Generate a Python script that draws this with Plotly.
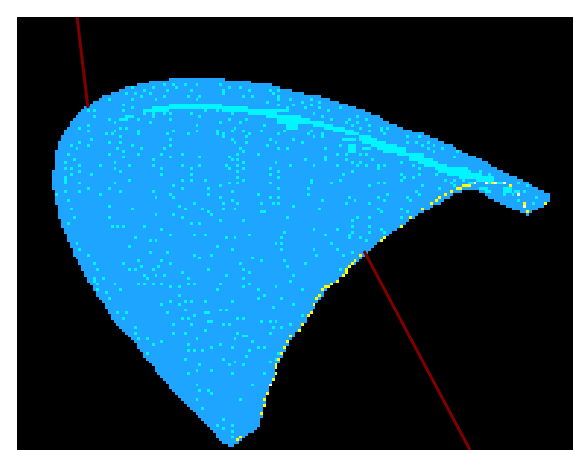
import numpy as np
import plotly.graph_objects as go

N_COLS, N_ROWS = 190, 150
X_MAX, Y_MAX = 556.0, 433.0
FIRST_ROW = 21

row_left = [152,131,120,108,102,93,85,82,76,73,
            67,64,61,58,55,54,52,50,48,47,
            45,44,42,41,41,39,38,38,38,38,
            38,38,35,35,35,35,35,35,35,38,
            38,38,38,38,41,41,41,41,41,44,
            44,44,47,47,50,50,50,52,52,55,
            55,55,58,61,61,64,64,67,67,70,
            70,73,76,76,79,79,82,85,87,87,
            90,90,93,93,96,99,102,105,108,111,
            114,116,120,120,122,125,125,128,131,134,
            137,137,140,143,146,149,152,152,155,157,
            160,163,166,169,172,175,178,181,184,187,
            190,192,195,198,198,201,204,210]
row_right = [207,233,254,262,274,286,303,312,321,330,
             338,347,353,362,367,373,380,386,394,408,
             414,420,426,435,440,446,452,458,464,470,
             475,481,487,493,499,505,511,516,522,
             446,437,432,426,423,417,413,408,402,
             397,393,388,384,380,376,372,369,367,361,
             357,354,350,348,344,341,338,335,332,329,
             326,323,319,316,314,311,308,306,304,301,
             299,298,296,295,292,291,289,288,285,283,
             279,277,275,273,272,270,268,267,265,263,
             262,260,259,258,258,257,256,254,253,252,
             251,250,249,248,248,247,247,246,245,245,
             244,243,242,240,237,231,228,226,223,216]
TAIL_FIRST_ROW = 60
tail_left = [461,467,472,478,484,490,496,502,508]
tail_right = [528,534,534,534,531,528,522,516,513]

ridge_runs = [
    (151,206,88),(134,230,91),(125,151,93.8),(206,273,93.8),(230,260,96.7),(248,283,99.6),
    (260,283,102.5),(260,283,105.4),(268,280,108.3),(268,280,111.2),
    (273,283,99.6),(273,293,102.5),(283,308,105.4),(295,316,108.3),(308,328,111.2),(316,336,114),
    (328,341,117),(341,353,120),(341,361,122.7),(345,370,125.6),(353,380,128.5),(361,388,131.4),
    (366,388,134.2),(381,406,137),(391,408,140),(391,416,143),(400,420,145.8),(408,430,148.7),
    (418,436,151.6),(421,443,154.5),(431,443,157.4),
    (433,451,151.6),(440,453,154.5),(443,466,157.4),(443,466,160.3),(458,478,160.3),(458,478,163.1),
    (452,458,166),(471,486,166),(461,471,171.8),(486,495,171.8),(467,475,174.7),(486,496,174.7),
    (332,338,128.5),(332,338,131.4),(332,338,134.2),(326,336,122.7),(344,353,131.4),
    (102,110,102.5),(108,116,99.6),
]

speckles_upper_left = [
    (147,69),(157,69),(159,72),(167,69),(179,69),(202,69),(115,72),(135,72),(126,75),(150,75),(173,75),
    (109,77),(118,77),(132,77),(123,80),(147,80),(170,80),(182,80),(91,83),(115,83),(138,83),(179,83),
    (106,88),(179,87),(115,91),(155,91),(167,91),(179,91),(190,94),(199,94),(71,94),(77,94),(106,94),
    (126,96),(135,96),(147,96),(155,96),(173,96),(77,99),(91,102),(121,102),(135,99),(182,99),(153,102),
    (97,105),(132,105),(71,107),(179,107),(202,105),(62,110),(103,110),(109,110),(71,113),(121,113),
    (158,113),(179,113),(199,113),(97,113),(94,116),(150,116),(170,116),(88,118),(121,118),(199,118),
    (103,121),(74,124),(155,124),(62,127),(91,127),(103,127),(53,129),(71,129),(115,129),(155,129),
    (59,132),(100,132),(123,132),(147,132),(106,135),(50,137),(91,137),(121,137),(144,137),(164,137),
    (106,140),(153,140),(182,140),(56,143),(135,143),(48,146),(97,146),(62,148),(83,148),(112,148),
    (135,148),(164,148),(182,148),(48,151),(53,151),(97,151),(144,151),(173,151),(62,154),(103,154),
    (53,157),(74,157),(144,157),(173,157),(48,159),(48,162),(112,162),(164,162),(173,162),(190,162),
    (48,167),(62,167),(97,167),(158,170),(202,170),(71,173),(91,173),(164,173),(193,173),(48,176),
    (62,176),(103,176),(135,176),(39,178),(83,178),(153,178),(193,178),(138,181),(158,181),(202,181),
]
speckles_upper_middle = [
    (211,72),(223,72),(234,75),(252,75),(255,77),(261,75),(205,75),(205,77),(228,80),(237,80),(263,80),
    (263,83),(275,83),(293,83),(249,86),(263,88),(278,88),(284,86),(293,88),(304,86),(272,91),(287,91),
    (304,91),(322,91),(313,94),(298,96),(214,94),(214,96),(307,99),(342,99),(211,102),(231,102),(316,102),
    (333,102),(351,102),(342,105),(328,105),(225,105),(246,107),(336,107),(354,107),(217,110),(345,110),
    (363,110),(371,110),(214,113),(228,113),(243,113),(269,113),(293,113),(354,113),(363,113),(205,116),
    (234,116),(263,116),(290,116),(307,116),(261,118),(368,118),(205,121),(231,121),(296,121),(307,121),
    (214,124),(252,124),(278,124),(339,124),(217,127),(231,127),(258,127),(284,127),(249,129),(322,129),
    (223,132),(263,132),(272,132),(310,132),(228,135),(220,137),(240,137),(319,137),(328,137),(345,137),
    (351,137),(211,140),(310,140),(214,143),(220,143),(287,143),(310,143),(328,143),(357,143),(334,146),
    (345,146),(228,146),(260,146),(208,148),(220,148),(275,148),(296,148),(319,148),(342,148),(351,148),
    (360,148),(368,148),(211,151),(228,151),(252,151),(360,151),(220,154),(263,154),(336,154),(252,157),
    (325,157),(220,159),(262,159),(220,165),(228,162),(252,165),(293,162),(322,162),(360,165),(211,167),
    (293,167),(316,167),(366,167),(354,170),(262,173),(290,173),(214,176),(242,178),(292,178),(371,178),
    (252,181),(263,181),(333,181),(360,181),
]
speckles_right = [
    (390,121),(401,121),(392,127),(398,127),(410,127),(404,129),(418,129),(410,132),(427,132),(441,135),
    (418,135),(438,140),(386,135),(386,145),(396,148),(403,151),(403,157),(396,160),(389,160),(384,157),
    (384,162),(421,156),(433,157),(430,162),(438,162),(447,162),(465,155),(473,157),(436,165),(438,168),
    (503,167),(511,170),(503,174),(500,176),(508,176),(503,182),(488,178),(495,178),(520,181),(517,187),
    (422,172),(406,170),(400,174),(390,181),(395,184),(403,178),(384,192),(392,195),(384,201),
]
speckles_lower_left = [
    (51,184),(91,189),(161,189),(176,187),(53,192),(115,192),(167,192),(185,192),(191,195),(138,197),
    (158,197),(196,197),(56,200),(91,200),(164,200),(202,203),(51,206),(173,206),(182,206),(94,208),
    (100,208),(106,208),(126,208),(144,211),(155,217),(176,219),(188,219),(118,222),(132,225),(138,225),
    (59,227),(112,230),(199,230),(62,233),(132,236),(150,236),(71,238),(176,238),(196,238),(182,241),
    (121,244),(144,244),(77,247),(106,247),(155,247),(123,249),(141,249),(80,253),(112,253),(118,252),
    (135,252),(193,252),(164,255),(126,257),(138,257),(147,257),(77,261),(77,263),(86,260),(170,260),
    (131,260),(80,266),(121,266),(126,266),(135,266),(144,266),(202,266),(97,268),(170,268),(176,268),
    (155,271),(161,271),(80,274),(103,274),(199,274),(88,277),(161,279),(91,282),(155,285),(167,285),
    (173,285),(188,285),(144,287),(161,287),(167,293),(202,293),(100,296),(109,296),(150,296),(188,296),
    (193,296),(176,298),(106,301),(164,301),(170,301),(191,304),(196,304),(158,307),(173,307),
]
speckles_lower_middle = [
    (214,184),(307,184),(339,184),(205,187),(220,187),(243,187),(255,187),(263,187),(328,187),(354,187),
    (366,184),(278,189),(205,192),(217,192),(304,192),(360,192),(243,195),(246,195),(363,195),(272,200),
    (342,200),(354,200),(226,203),(336,203),(336,208),(354,208),(203,203),(296,211),(319,211),(363,211),
    (269,214),(336,214),(354,214),(368,214),(310,217),(234,219),(331,219),(208,222),(217,222),(266,222),
    (333,222),(345,222),(351,225),(258,227),(266,227),(316,227),(266,233),(214,233),(296,233),(319,233),
    (336,236),(301,238),(325,238),(237,241),(243,244),(269,244),(223,247),(287,247),(272,249),(322,252),
    (226,252),(234,255),(208,257),(278,257),(228,260),(275,263),(203,266),(234,266),(226,269),(258,271),
    (284,274),(240,274),(246,279),(240,282),(266,282),(214,285),(278,287),(255,290),(203,293),(208,293),
    (284,298),(220,301),(226,301),(243,304),(252,304),(260,304),(205,307),(211,307),(275,307),
]
speckles_bottom = [
    (118,309),(188,312),(255,309),(266,309),(158,315),(167,315),(220,315),(118,317),(252,317),(226,320),
    (231,320),(121,323),(129,323),(179,323),(217,323),(144,326),(237,326),(135,328),(170,328),(202,328),
    (196,331),(214,331),(240,331),(246,331),(170,334),(176,334),(185,334),(234,334),(129,337),(261,337),
    (231,339),(167,342),(205,342),(258,342),(217,345),(252,345),(182,348),(211,348),(228,348),(179,353),
    (196,353),(170,356),(214,356),(246,356),(237,367),(179,369),(182,375),(191,375),(196,378),(179,383),
    (223,383),(185,391),(205,402),(199,408),(214,408),(205,410),(214,413),(214,421),
]
yellow_cells = [
    (449,170),(446,170),(452,170),(442,173),(440,173),(435,176),(430,178),(424,181),(421,184),(415,187),
    (406,192),(395,200),(384,208),(476,165),(494,170),(508,187),(511,195),(529,187),
    (366,222),(363,225),(345,238),(339,244),(336,247),(333,249),(330,252),(328,255),(325,257),(319,263),
    (316,266),(313,269),(310,271),(307,274),(304,279),(301,282),(298,287),(293,296),(290,298),(284,307),
    (281,312),(275,320),(272,326),(269,331),(266,337),(263,342),(260,348),(258,352),(258,356),(255,361),
    (252,369),(249,376),(246,383),(246,387),(243,397),(223,421),(220,424),
]
white_cells = [(459,167),(488,167),(503,178),(508,189),(471,165),(479,165),(252,367)]

line_upper_x, line_upper_y = [58, 71], [-17, 91]
line_lower_x, line_lower_y = [347, 453], [234, 433]

EMPTY, BODY, SPECK, YELLOW, WHITE = 0, 1, 2, 3, 4
colours = ["#000000", "#1ea5ff", "#00f5ff", "#ffff00", "#ffffff"]

dx, dy = X_MAX / N_COLS, Y_MAX / N_ROWS
z = np.zeros((N_ROWS, N_COLS), dtype=int)


def col(v):
    return int(v // dx)


def row(v):
    return int(v // dy)


def edge(v):
    return int(round(v / dx))


for i, (a, b) in enumerate(zip(row_left, row_right)):
    z[FIRST_ROW + i, edge(a):edge(b)] = BODY
for i, (a, b) in enumerate(zip(tail_left, tail_right)):
    z[TAIL_FIRST_ROW + i, edge(a):edge(b)] = BODY
for a, b, y in ridge_runs:
    z[row(y), edge(a):edge(b)] = SPECK
for group in (speckles_upper_left, speckles_upper_middle, speckles_right,
              speckles_lower_left, speckles_lower_middle, speckles_bottom):
    for x, y in group:
        z[row(y), col(x)] = SPECK
for x, y in yellow_cells:
    z[row(y), col(x)] = YELLOW
for x, y in white_cells:
    z[row(y), col(x)] = WHITE

scale = []
for i, c in enumerate(colours):
    scale += [[i / 5, c], [(i + 1) / 5, c]]

fig = go.Figure()
fig.add_trace(go.Heatmap(z=z, x0=dx / 2, dx=dx, y0=dy / 2, dy=dy, zmin=0, zmax=5,
                         colorscale=scale, showscale=False, hoverinfo="skip"))
fig.add_trace(go.Scatter(x=line_upper_x + [None] + line_lower_x,
                         y=line_upper_y + [None] + line_lower_y,
                         mode="lines", cliponaxis=False, hoverinfo="skip",
                         line=dict(color="#800000", width=3)))
fig.update_xaxes(visible=False, range=[0, X_MAX])
fig.update_yaxes(visible=False, range=[Y_MAX, 0])
fig.update_layout(width=573, height=450, margin=dict(l=17, r=0, t=17, b=0, pad=0),
                  paper_bgcolor="#ffffff", plot_bgcolor="#000000", showlegend=False)
fig.write_html("out.html", config={"displayModeBar": False},
               post_script="document.body.style.margin='0';document.body.style.overflow='hidden';")
